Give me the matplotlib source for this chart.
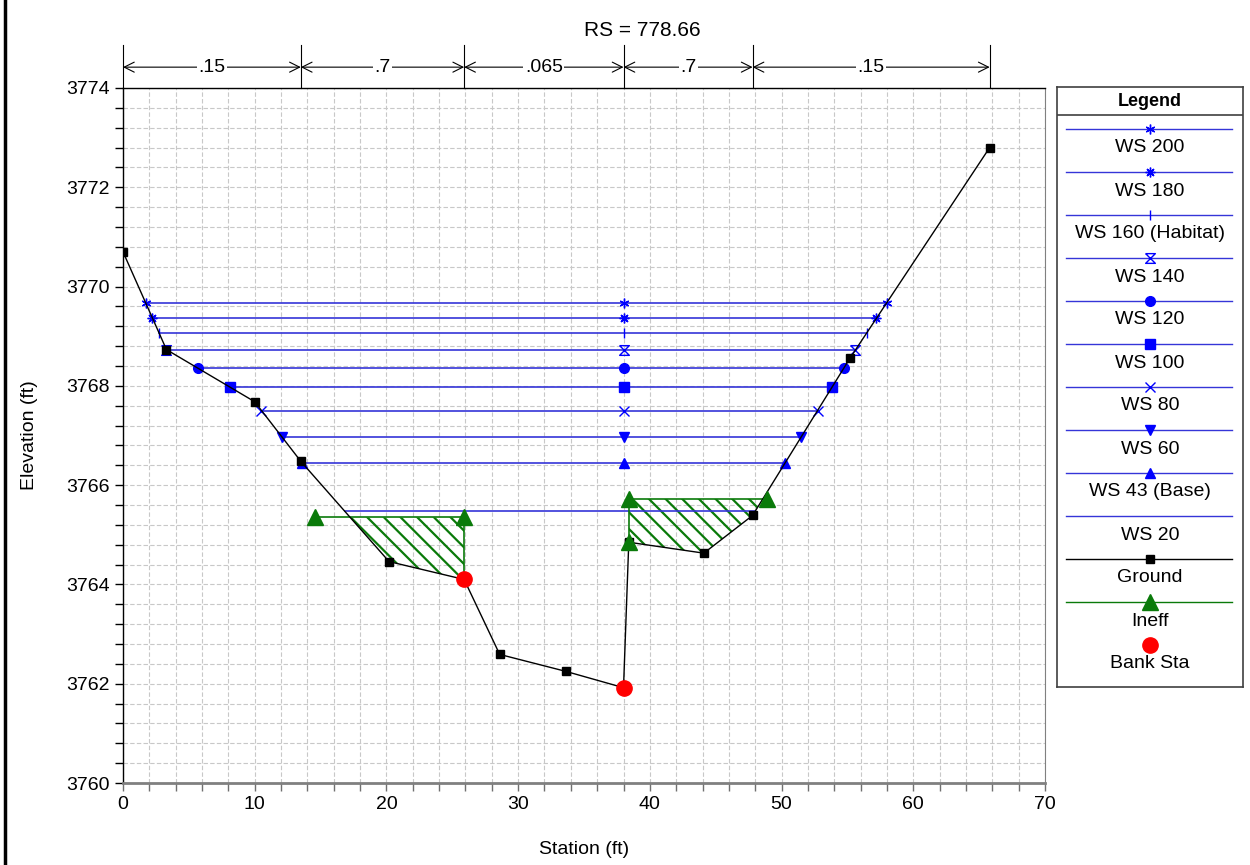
import matplotlib
matplotlib.use('Agg')
import matplotlib.pyplot as plt
from matplotlib.lines import Line2D
import numpy as np

plt.rcParams['font.family'] = ['Liberation Sans', 'DejaVu Sans']
plt.rcParams['hatch.linewidth'] = 1.6

# ground profile (station, elevation)
ground_x = [0.0, 3.3, 10.0, 13.5, 20.2, 25.9, 28.6, 33.6, 38.0, 38.4, 44.1, 47.8, 55.2, 65.8]
ground_y = [3770.70, 3768.73, 3767.68, 3766.48, 3764.46, 3764.10, 3762.59, 3762.25,
            3761.92, 3764.85, 3764.63, 3765.39, 3768.56, 3772.80]

# water surfaces: name, elevation, left/right edge
ws_names = ['WS 200', 'WS 180', 'WS 160 (Habitat)', 'WS 140', 'WS 120',
            'WS 100', 'WS 80', 'WS 60', 'WS 43 (Base)', 'WS 20']
ws_elev = [3769.67, 3769.37, 3769.06, 3768.72, 3768.36, 3767.98, 3767.50, 3766.97, 3766.45, 3765.47]
ws_left = [1.73, 2.23, 2.75, 3.30, 5.66, 8.09, 10.50, 12.07, 13.60, 16.85]
ws_right = [57.97, 57.20, 56.45, 55.60, 54.73, 53.85, 52.73, 51.49, 50.27, 47.99]
ws_mid = 38.0

# bank stations
bank_x = [25.9, 38.0]
bank_y = [3764.10, 3761.92]

# ineffective flow areas
ineff_left_x = [14.6, 25.9, 25.9]
ineff_left_y = [3765.35, 3765.35, 3764.10]
ineff_right_x = [38.4, 38.4, 48.9]
ineff_right_y = [3764.85, 3765.72, 3765.72]

# manning n breaks
n_breaks = [0.0, 13.5, 25.9, 38.0, 47.8, 65.8]
n_labels = ['.15', '.7', '.065', '.7', '.15']

hourglass = [(-1, 1), (1, 1), (-1, -1), (1, -1), (-1, 1)]
ws_markers = [(6, 2, 0), (8, 2, 0), '|', hourglass, 'o', 's', 'x', 'v', '^', None]
ws_msize = [7, 7, 7, 7, 7, 7, 7, 7, 7, 0]
ws_mfc = ['blue', 'blue', 'blue', 'none', 'blue', 'blue', 'blue', 'blue', 'blue', 'blue']
line_blue = '#3535d8'
green = '#0a7a0a'

fig = plt.figure(figsize=(12.5, 8.65), dpi=100)
ax = fig.add_axes([123 / 1250, 1 - 783 / 865, (1045 - 123) / 1250, (783 - 88) / 865])

# hatched ineffective areas
for xs_, elev in [((14.6, 25.9), 3765.35), ((38.4, 48.9), 3765.72)]:
    xs = np.linspace(xs_[0], xs_[1], 400)
    ys = np.interp(xs, ground_x, ground_y)
    ax.fill_between(xs, np.minimum(ys, elev), elev, facecolor='none',
                    edgecolor=green, hatch='\\\\', linewidth=0, zorder=2)

# water surfaces
for i in range(len(ws_names)):
    ax.plot([ws_left[i], ws_right[i]], [ws_elev[i], ws_elev[i]], color=line_blue, lw=1.2, zorder=3)
    if ws_markers[i] is not None:
        ax.plot([ws_left[i], ws_mid, ws_right[i]], [ws_elev[i]] * 3, ls='none',
                marker=ws_markers[i], ms=ws_msize[i], mfc=ws_mfc[i], mec='blue',
                mew=1.0, zorder=4)

# ineff lines
ax.plot(ineff_left_x, ineff_left_y, color=green, lw=1.2, zorder=3)
ax.plot(ineff_right_x, ineff_right_y, color=green, lw=1.2, zorder=3)

# ground
ax.plot(ground_x, ground_y, color='black', lw=1.0, marker='s', ms=6, zorder=5)

ax.plot(ineff_left_x[:2], ineff_left_y[:2], ls='none', marker='^', ms=11, color=green, zorder=6)
ax.plot(ineff_right_x, ineff_right_y, ls='none', marker='^', ms=11, color=green, zorder=6)
ax.plot(bank_x, bank_y, ls='none', marker='o', ms=11, color='red', zorder=7)

ax.set_xlim(0, 70)
ax.set_ylim(3760, 3774)
ax.set_xticks(np.arange(0, 71, 10))
ax.set_yticks(np.arange(3760, 3775, 2))
ax.set_xticks(np.arange(0, 70, 2), minor=True)
ax.set_yticks(np.arange(3760, 3774, 0.4), minor=True)
ax.grid(True, which='both', color='#c8c8c8', ls=(0, (4, 2)), lw=0.8)
ax.set_axisbelow(True)
ax.tick_params(which='both', direction='out', length=6, width=1, labelsize=14, colors='black')
ax.tick_params(axis='x', which='both', colors='#707070', labelcolor='black')
for s in ['left', 'top']:
    ax.spines[s].set_color('black')
    ax.spines[s].set_linewidth(1)
ax.spines['right'].set_color('#808080')
ax.spines['bottom'].set_color('#808080')
ax.spines['bottom'].set_linewidth(2)
ax.set_xlabel('Station (ft)', fontsize=14, labelpad=20)
ax.set_ylabel('Elevation (ft)', fontsize=14, labelpad=20)

# manning n annotation
y_top = 3774.87
y_arr = 3774.42
for xb in n_breaks:
    ax.plot([xb, xb], [3774, y_top], color='black', lw=0.8, clip_on=False)
for j, lab in enumerate(n_labels):
    ax.annotate('', xy=(n_breaks[j], y_arr), xytext=(n_breaks[j + 1], y_arr),
                arrowprops=dict(arrowstyle='<->', lw=0.8, color='black',
                                shrinkA=0, shrinkB=0, mutation_scale=18),
                annotation_clip=False)
    ax.text((n_breaks[j] + n_breaks[j + 1]) / 2, y_arr, lab, ha='center', va='center',
            fontsize=14, bbox=dict(fc='white', ec='none', pad=1), clip_on=False, zorder=8)

fig.text(642 / 1250, 1 - 30 / 865, 'RS = 778.66', ha='center', va='center', fontsize=15)

# legend box
lg = fig.add_axes([1057 / 1250, 1 - 687 / 865, (1243 - 1057) / 1250, (687 - 87) / 865])
lg.set_xlim(1057, 1243)
lg.set_ylim(687, 87)
lg.set_xticks([])
lg.set_yticks([])
for s in lg.spines.values():
    s.set_color('#404040')
    s.set_linewidth(1.2)
lg.text(1150, 101, 'Legend', ha='center', va='center', fontsize=13, fontweight='bold')
lg.axhline(115, color='#404040', lw=1.2)

entries = []
for i in range(len(ws_names)):
    entries.append((ws_names[i], line_blue, ws_markers[i], ws_msize[i], ws_mfc[i], 'blue'))
entries.append(('Ground', 'black', 's', 6, 'black', 'black'))
entries.append(('Ineff', green, '^', 11, green, green))
entries.append(('Bank Sta', None, 'o', 11, 'red', 'red'))
for i, (name, lc, mk, ms, mfc, mec) in enumerate(entries):
    yl = 129 + 43 * i
    if lc is not None:
        lg.plot([1066, 1232], [yl, yl], color=lc, lw=1.0)
    if mk is not None:
        lg.plot([1150], [yl], ls='none', marker=mk, ms=ms, mfc=mfc, mec=mec, mew=1.0)
    lg.text(1150, yl + 19, name, ha='center', va='center', fontsize=14)

fig.add_artist(Line2D([4.5 / 1250, 4.5 / 1250], [0, 1], color='black', lw=2.5))

fig.savefig('out.png', dpi=100)
